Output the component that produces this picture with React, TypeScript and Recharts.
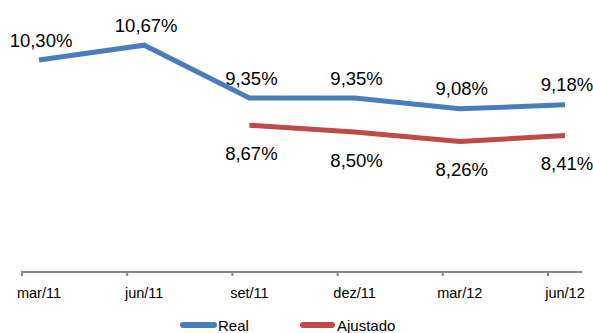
import { Legend, Line, LineChart, XAxis, YAxis } from 'recharts';

const periods = ['mar/11', 'jun/11', 'set/11', 'dez/11', 'mar/12', 'jun/12'];
const realValues = [10.3, 10.67, 9.35, 9.35, 9.08, 9.18];
const ajustadoValues: (number | null)[] = [null, null, 8.67, 8.5, 8.26, 8.41];

const data = periods.map((p, i) => ({ name: p, real: realValues[i], ajustado: ajustadoValues[i] }));

const FONT = '"Liberation Sans", Arial, sans-serif';
const BLUE = '#4a7ebb';
const RED = '#be4b48';

const fmt = (v: number) => `${v.toFixed(2).replace('.', ',')}%`;

const labelAbove = (props: any) => {
  const { x, y, value } = props;
  if (value == null) return null;
  return (
    <text x={x + 2} y={y - 20} textAnchor="middle" dominantBaseline="central" fontSize={18.5} fontFamily={FONT} fill="#000">
      {fmt(value)}
    </text>
  );
};

const labelBelow = (props: any) => {
  const { x, y, value } = props;
  if (value == null) return null;
  return (
    <text x={x + 2} y={y + 28} textAnchor="middle" dominantBaseline="central" fontSize={18.5} fontFamily={FONT} fill="#000">
      {fmt(value)}
    </text>
  );
};

const PeriodTick = (props: any) => {
  const { x, y, payload } = props;
  return (
    <g>
      <line x1={x - 17} x2={x - 17} y1={y - 8} y2={y - 4} stroke="#888" strokeWidth={2} />
      <text x={x} y={y + 13} textAnchor="middle" dominantBaseline="central" fontSize={14.5} fontFamily={FONT} fill="#000">
        {payload.value}
      </text>
    </g>
  );
};

const LegendContent = () => (
  <div style={{ position: 'relative', height: 18, fontFamily: FONT, fontSize: 15 }}>
    <span style={{ position: 'absolute', left: 180, top: 7, width: 37, height: 6, borderRadius: 3, background: BLUE }} />
    <span style={{ position: 'absolute', left: 218, top: 2, lineHeight: '18px' }}>Real</span>
    <span style={{ position: 'absolute', left: 300, top: 7, width: 35, height: 6, borderRadius: 3, background: RED }} />
    <span style={{ position: 'absolute', left: 337, top: 2, lineHeight: '18px' }}>Ajustado</span>
  </div>
);

export default function App() {
  return (
    <div style={{ position: 'absolute', left: 0, top: 0, width: 593, height: 333, overflow: 'hidden', background: '#fff' }}>
      <LineChart width={593} height={333} data={data} margin={{ top: 12, right: 11, bottom: 0, left: 21 }}>
        <XAxis
          dataKey="name"
          padding={{ left: 18, right: 17 }}
          height={43}
          axisLine={{ stroke: '#888', strokeWidth: 2 }}
          tickLine={false}
          tick={<PeriodTick />}
          interval={0}
        />
        <YAxis hide domain={[5, 11.5]} />
        <Legend
          verticalAlign="bottom"
          content={<LegendContent />}
          wrapperStyle={{ left: 0, width: 593 }}
        />
        <Line
          dataKey="real"
          name="Real"
          stroke={BLUE}
          strokeWidth={5}
          dot={false}
          isAnimationActive={false}
          label={labelAbove}
        />
        <Line
          dataKey="ajustado"
          name="Ajustado"
          stroke={RED}
          strokeWidth={5}
          dot={false}
          isAnimationActive={false}
          label={labelBelow}
        />
      </LineChart>
    </div>
  );
}
